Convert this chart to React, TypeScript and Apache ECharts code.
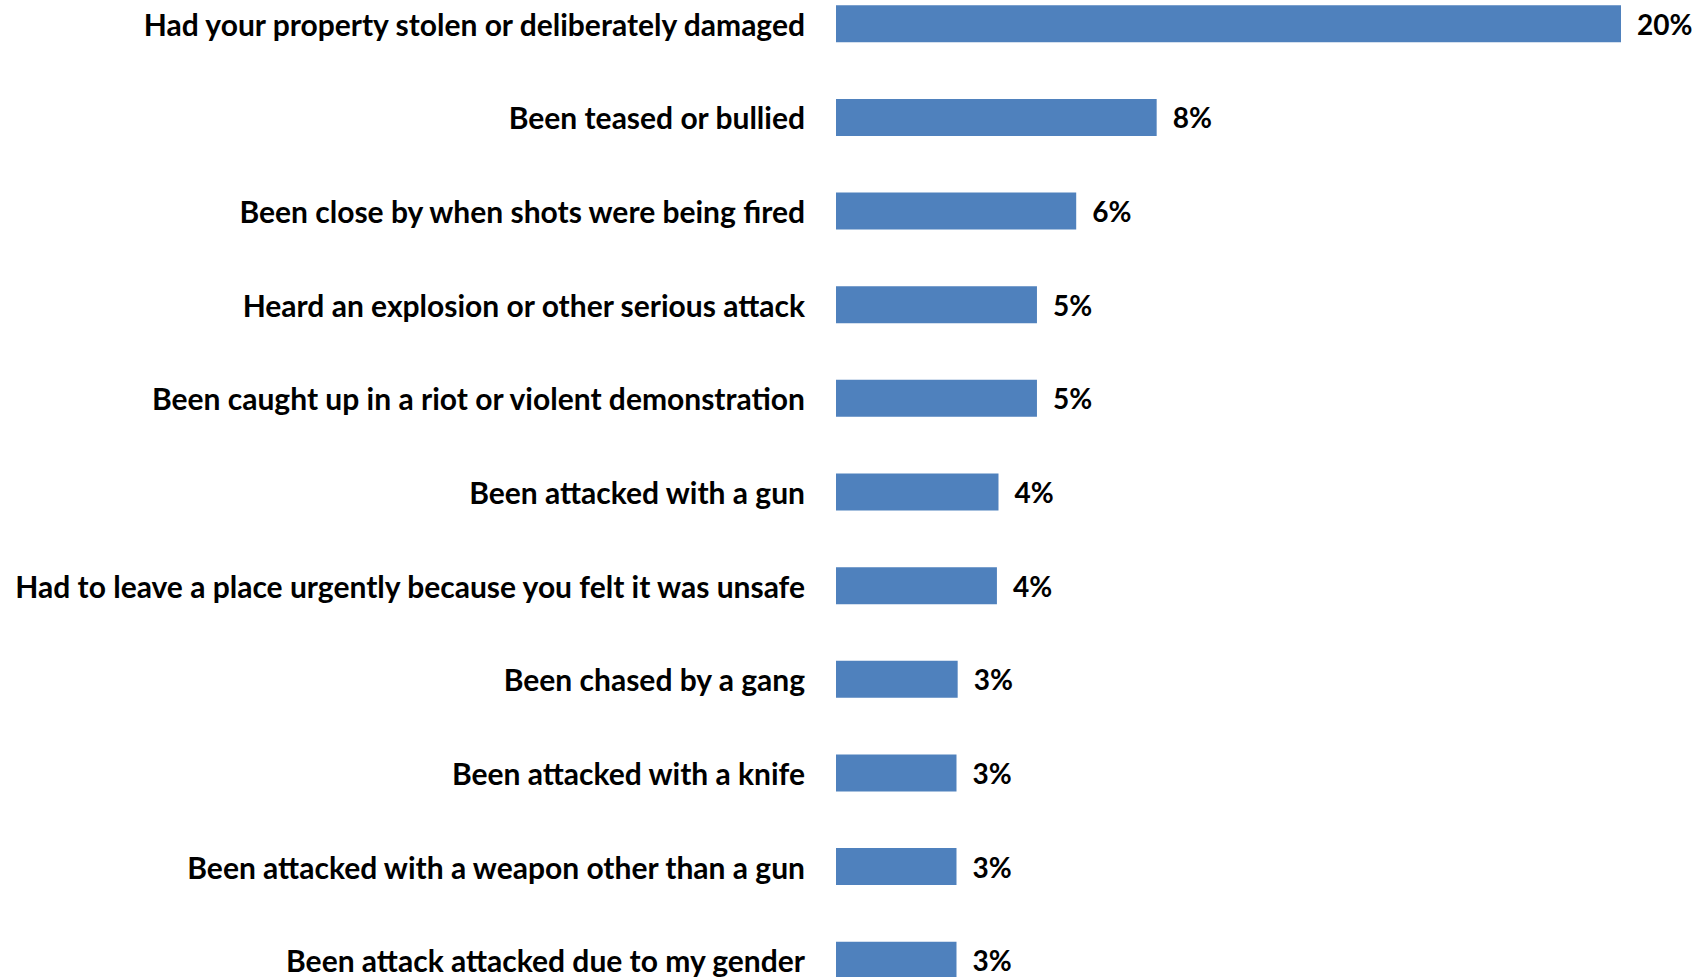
import React, { useEffect, useRef } from "react";
import * as echarts from "echarts";

const categories = [
  "Had your property stolen or deliberately damaged",
  "Been teased or bullied",
  "Been close by when shots were being fired",
  "Heard an explosion or other serious attack",
  "Been caught up in a riot or violent demonstration",
  "Been attacked with a gun",
  "Had to leave a place urgently because you felt it was unsafe",
  "Been chased by a gang",
  "Been attacked with a knife",
  "Been attacked with a weapon other than a gun",
  "Been attack attacked due to my gender",
];

const values = [20.0, 8.17, 6.12, 5.12, 5.12, 4.14, 4.1, 3.1, 3.07, 3.07, 3.07];

const FONT = "Lato";

export default function App() {
  const ref = useRef<HTMLDivElement>(null);
  useEffect(() => {
    if (!ref.current) return;
    const chart = echarts.init(ref.current, undefined, { renderer: "svg" });
    chart.setOption({
      animation: false,
      grid: { left: 836, right: 81, top: 27, bottom: 43, containLabel: false },
      xAxis: {
        type: "value",
        min: 0,
        max: 20,
        show: false,
      },
      yAxis: {
        type: "category",
        inverse: true,
        data: categories,
        axisLine: { show: false },
        axisTick: { show: false },
        splitLine: { show: false },
        axisLabel: {
          margin: 31,
          color: "#000",
          fontFamily: FONT,
          fontWeight: "bold",
          fontSize: 30,
        },
      },
      series: [
        {
          type: "bar",
          data: values,
          barWidth: 37,
          itemStyle: { color: "#4F81BD" },
          label: {
            show: true,
            position: "right",
            distance: 16,
            color: "#000",
            fontFamily: FONT,
            fontWeight: "bold",
            fontSize: 28,
            formatter: (p: any) => Math.round(p.value) + "%",
          },
        },
      ],
    });
    return () => chart.dispose();
  }, []);
  return (
    <div
      style={{
        position: "fixed",
        left: 0,
        top: 0,
        width: 1702,
        height: 977,
        overflow: "hidden",
        background: "#fff",
      }}
    >
      <div
        ref={ref}
        style={{ position: "absolute", left: 0, top: -50, width: 1702, height: 1100 }}
      />
    </div>
  );
}
